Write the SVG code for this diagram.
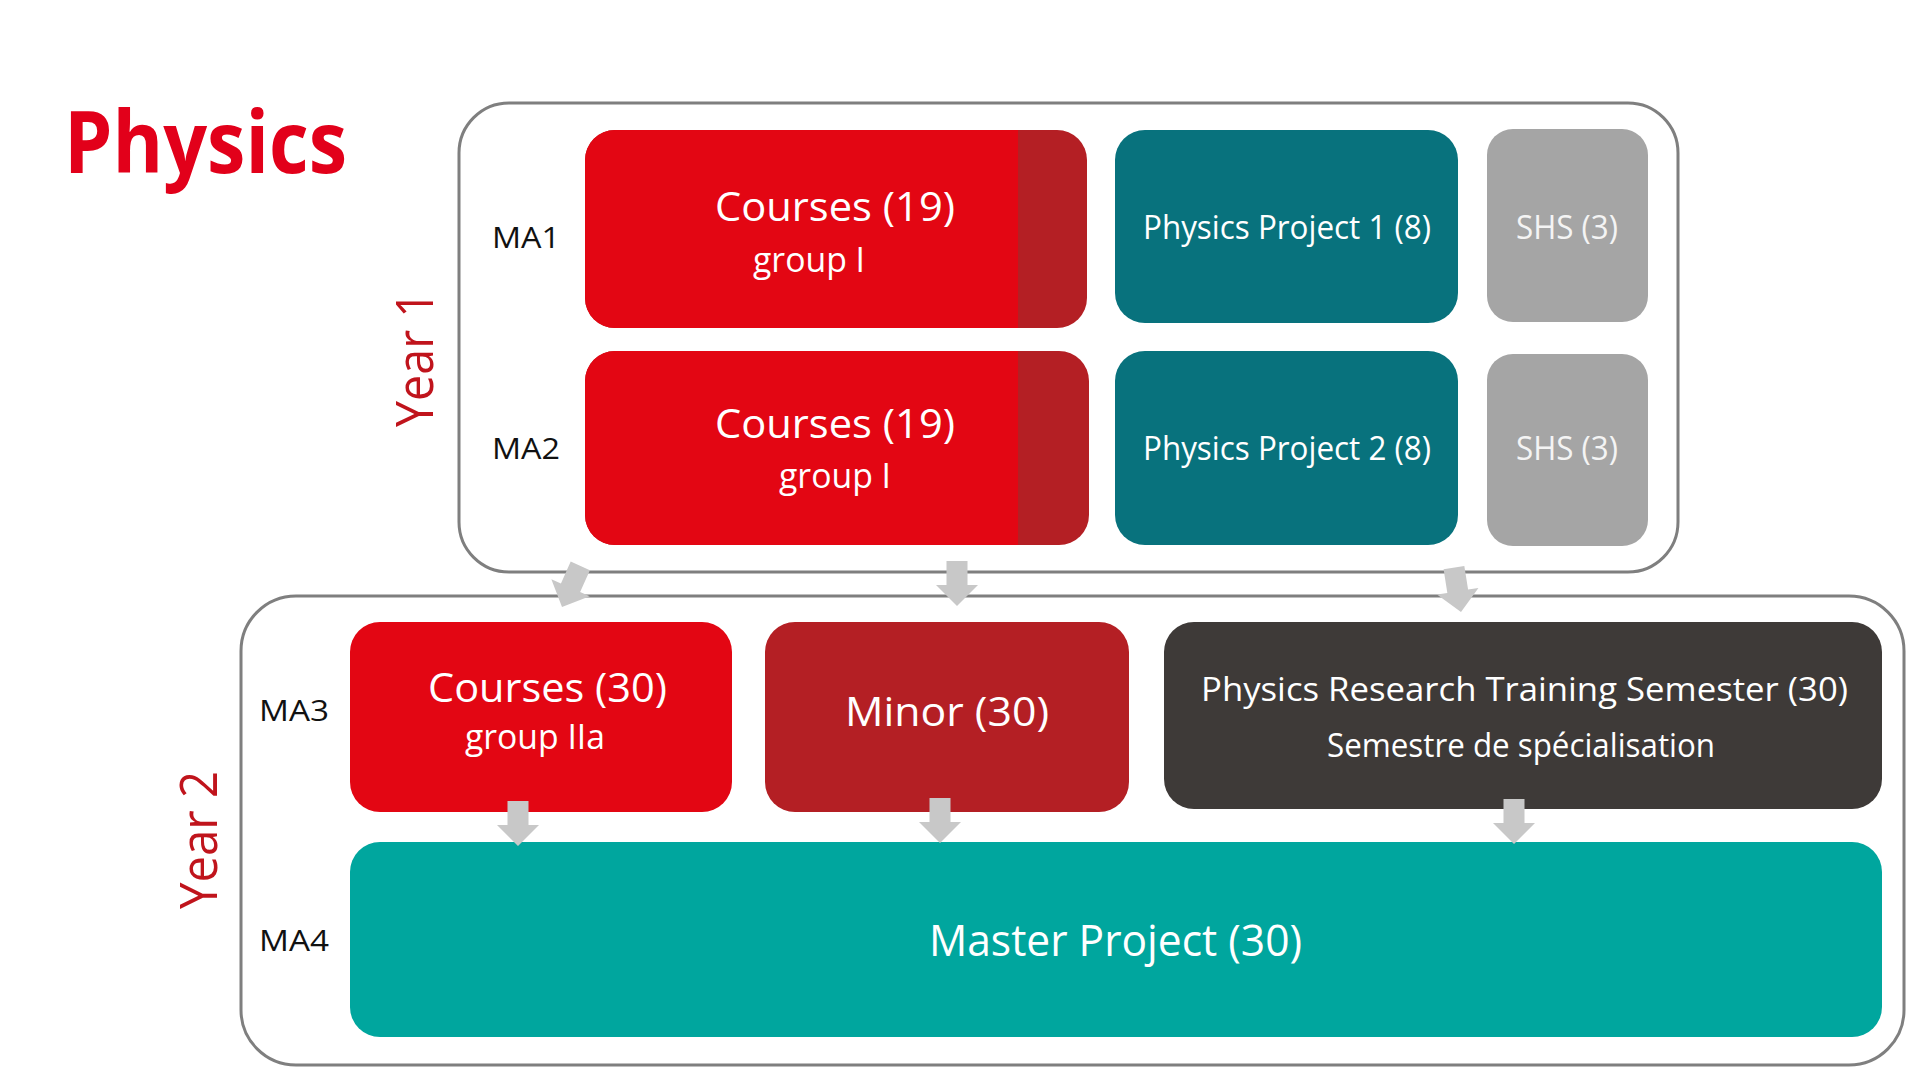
<svg xmlns="http://www.w3.org/2000/svg" xmlns:xlink="http://www.w3.org/1999/xlink" width="1920" height="1080" viewBox="0 0 1920 1080">
  <style>
    text { font-family: "Open Sans", "Noto Sans", "Liberation Sans", sans-serif; }
    .w { fill: #ffffff; }
    .lab { fill: #111111; font-size: 30px; }
    .year { fill: #c0141c; font-size: 52px; }
    .frame { fill: #ffffff; stroke: #7f7f7f; stroke-width: 3; }
    .red { fill: #e30613; }
    .dred { fill: #b41f24; }
    .teal { fill: #08727d; }
    .lteal { fill: #00a69e; }
    .gray { fill: #a5a5a5; }
    .dark { fill: #3e3a38; }
    .arr { fill: #c8c8c8; }
  </style>
  <defs>
    <path id="arrow" d="M -10.5 -45 H 10.5 V -21 H 21 L 0 0 L -21 -21 H -10.5 Z"/>
  </defs>
  <rect width="1920" height="1080" fill="#ffffff"/>

  <text id="title" x="64" y="173" font-size="86" font-weight="bold" fill="#e2001a" textLength="283" lengthAdjust="spacingAndGlyphs">Physics</text>

  <g id="year1">
    <rect class="frame" x="459" y="103" width="1219" height="469" rx="50" ry="50"/>
    <text class="year" transform="translate(433,427) rotate(-90)" textLength="136" lengthAdjust="spacingAndGlyphs">Year 1</text>
    <text class="lab" x="492" y="248" textLength="68" lengthAdjust="spacingAndGlyphs">MA1</text>
    <text class="lab" x="492" y="459" textLength="68" lengthAdjust="spacingAndGlyphs">MA2</text>
  </g>

  <g id="year2">
    <rect class="frame" x="241" y="596" width="1663" height="469" rx="55" ry="55"/>
    <text class="year" transform="translate(217,909) rotate(-90)" textLength="138" lengthAdjust="spacingAndGlyphs">Year 2</text>
    <text class="lab" x="259" y="721" textLength="70" lengthAdjust="spacingAndGlyphs">MA3</text>
    <text class="lab" x="259" y="951" textLength="70" lengthAdjust="spacingAndGlyphs">MA4</text>
  </g>

  <g id="ma1-courses">
    <rect class="dred" x="585" y="130" width="502" height="198" rx="30" ry="30"/>
    <path class="red" d="M 1018 130 H 615 A 30 30 0 0 0 585 160 V 298 A 30 30 0 0 0 615 328 H 1018 Z"/>
    <text class="w" x="715" y="221" font-size="41" textLength="240" lengthAdjust="spacingAndGlyphs">Courses (19)</text>
    <text class="w" x="753" y="272" font-size="35" textLength="112" lengthAdjust="spacingAndGlyphs">group I</text>
  </g>

  <g id="ma2-courses">
    <rect class="dred" x="585" y="351" width="504" height="194" rx="30" ry="30"/>
    <path class="red" d="M 1018 351 H 615 A 30 30 0 0 0 585 381 V 515 A 30 30 0 0 0 615 545 H 1018 Z"/>
    <text class="w" x="715" y="438" font-size="41" textLength="240" lengthAdjust="spacingAndGlyphs">Courses (19)</text>
    <text class="w" x="779" y="488" font-size="35" textLength="112" lengthAdjust="spacingAndGlyphs">group I</text>
  </g>

  <g id="pp1">
    <rect class="teal" x="1115" y="130" width="343" height="193" rx="30" ry="30"/>
    <text class="w" x="1143" y="239" font-size="32" textLength="288" lengthAdjust="spacingAndGlyphs">Physics Project 1 (8)</text>
  </g>
  <g id="pp2">
    <rect class="teal" x="1115" y="351" width="343" height="194" rx="30" ry="30"/>
    <text class="w" x="1143" y="460" font-size="32" textLength="288" lengthAdjust="spacingAndGlyphs">Physics Project 2 (8)</text>
  </g>

  <g id="shs1">
    <rect class="gray" x="1487" y="129" width="161" height="193" rx="26" ry="26"/>
    <text fill="#f4f4f4" x="1516" y="239" font-size="32" textLength="102" lengthAdjust="spacingAndGlyphs">SHS (3)</text>
  </g>
  <g id="shs2">
    <rect class="gray" x="1487" y="354" width="161" height="192" rx="26" ry="26"/>
    <text fill="#f4f4f4" x="1516" y="460" font-size="32" textLength="102" lengthAdjust="spacingAndGlyphs">SHS (3)</text>
  </g>

  <g id="ma3-courses">
    <rect class="red" x="350" y="622" width="382" height="190" rx="30" ry="30"/>
    <text class="w" x="428" y="702" font-size="40" textLength="239" lengthAdjust="spacingAndGlyphs">Courses (30)</text>
    <text class="w" x="465" y="749" font-size="35" textLength="140" lengthAdjust="spacingAndGlyphs">group IIa</text>
  </g>

  <g id="minor">
    <rect class="dred" x="765" y="622" width="364" height="190" rx="30" ry="30"/>
    <text class="w" x="845" y="726" font-size="40" textLength="204" lengthAdjust="spacingAndGlyphs">Minor (30)</text>
  </g>

  <g id="prts">
    <rect class="dark" x="1164" y="622" width="718" height="187" rx="30" ry="30"/>
    <text class="w" x="1201" y="701" font-size="33" textLength="647" lengthAdjust="spacingAndGlyphs">Physics Research  Training Semester (30)</text>
    <text class="w" x="1327" y="757" font-size="33" textLength="388" lengthAdjust="spacingAndGlyphs">Semestre de spécialisation</text>
  </g>

  <g id="master">
    <rect class="lteal" x="350" y="842" width="1532" height="195" rx="30" ry="30"/>
    <text class="w" x="929" y="956" font-size="44" textLength="373" lengthAdjust="spacingAndGlyphs">Master Project (30)</text>
  </g>

  <g id="connectors" class="arr">
    <use xlink:href="#arrow" transform="translate(562,607) rotate(24)"/>
    <use xlink:href="#arrow" transform="translate(957,606)"/>
    <use xlink:href="#arrow" transform="translate(1461,612) rotate(-9)"/>
    <use xlink:href="#arrow" transform="translate(518,846)"/>
    <use xlink:href="#arrow" transform="translate(940,843)"/>
    <use xlink:href="#arrow" transform="translate(1514,844)"/>
  </g>
</svg>
